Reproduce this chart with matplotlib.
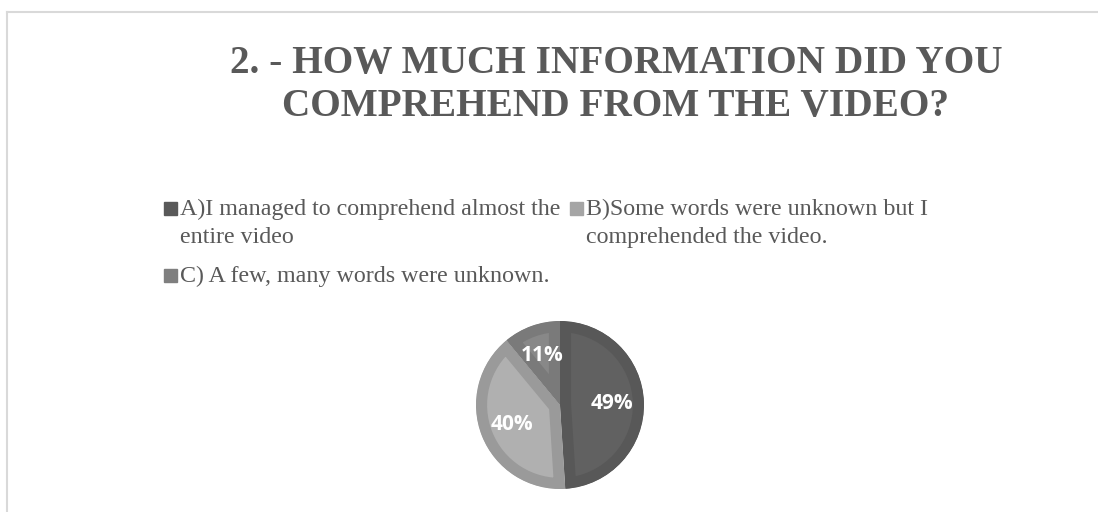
import matplotlib
matplotlib.use('Agg')
import matplotlib.pyplot as plt
from matplotlib.patches import Rectangle
from matplotlib.lines import Line2D

# chart data
title_lines = ['2. - HOW MUCH INFORMATION DID YOU', 'COMPREHEND FROM THE VIDEO?']
labels = ['A)I managed to comprehend almost the\nentire video',
          'B)Some words were unknown but I\ncomprehended the video.',
          'C) A few, many words were unknown.']
values = [49, 40, 11]
colors_outer = ['#585858', '#9a9a9a', '#7a7a7a']
colors_inner = ['#616161', '#b0b0b0', '#888888']
colors_legend = ['#595959', '#a5a5a5', '#7f7f7f']

W, H = 1098, 512
text_grey = '#595959'

fig = plt.figure(figsize=(W / 100, H / 100), dpi=100)
fig.patch.set_facecolor('white')

def fx(px):
    return px / W

def fy(py):
    return 1 - py / H

# chart area border (only left and top visible)
fig.add_artist(Line2D([fx(7), fx(7)], [0, fy(12)], color='#d9d9d9', lw=1.5,
                      transform=fig.transFigure))
fig.add_artist(Line2D([fx(7), 1], [fy(12), fy(12)], color='#d9d9d9', lw=1.5,
                      transform=fig.transFigure))

# title
for i, line in enumerate(title_lines):
    fig.text(fx(616), fy(73 + i * 43), line, ha='center', va='baseline',
             fontsize=28.3, fontweight='bold', family='Liberation Serif',
             color=text_grey)

# legend
legend_pos = [(164, 215), (570, 215), (164, 282)]
for lab, col, (x, y) in zip(labels, colors_legend, legend_pos):
    fig.add_artist(Rectangle((fx(x), fy(y)), fx(13), 13 / H, color=col,
                             transform=fig.transFigure))
    for j, line in enumerate(lab.split('\n')):
        fig.text(fx(x + 16), fy(y + j * 28), line, ha='left', va='baseline',
                 fontsize=17.3, family='Liberation Serif', color=text_grey)

# pie
cx, cy, r = 560, 405, 84
ax = fig.add_axes([fx(cx - r), fy(cy + r), fx(2 * r), 2 * r / H])
wedges, texts, autotexts = ax.pie(values, colors=colors_inner, startangle=90,
                                  counterclock=False, autopct='%.0f%%',
                                  pctdistance=0.62, radius=1,
                                  wedgeprops=dict(linewidth=0))
for w, c in zip(wedges, colors_outer):
    w.set_edgecolor(c)
    w.set_linewidth(16)
    w.set_clip_on(True)
    w.set_clip_path(w)
for t in autotexts:
    t.set_color('white')
    t.set_fontsize(15)
    t.set_fontweight('bold')
    t.set_family('Open Sans')
ax.set_xlim(-1, 1)
ax.set_ylim(-1, 1)
ax.axis('off')

fig.savefig('out.png', dpi=100, facecolor='white')
